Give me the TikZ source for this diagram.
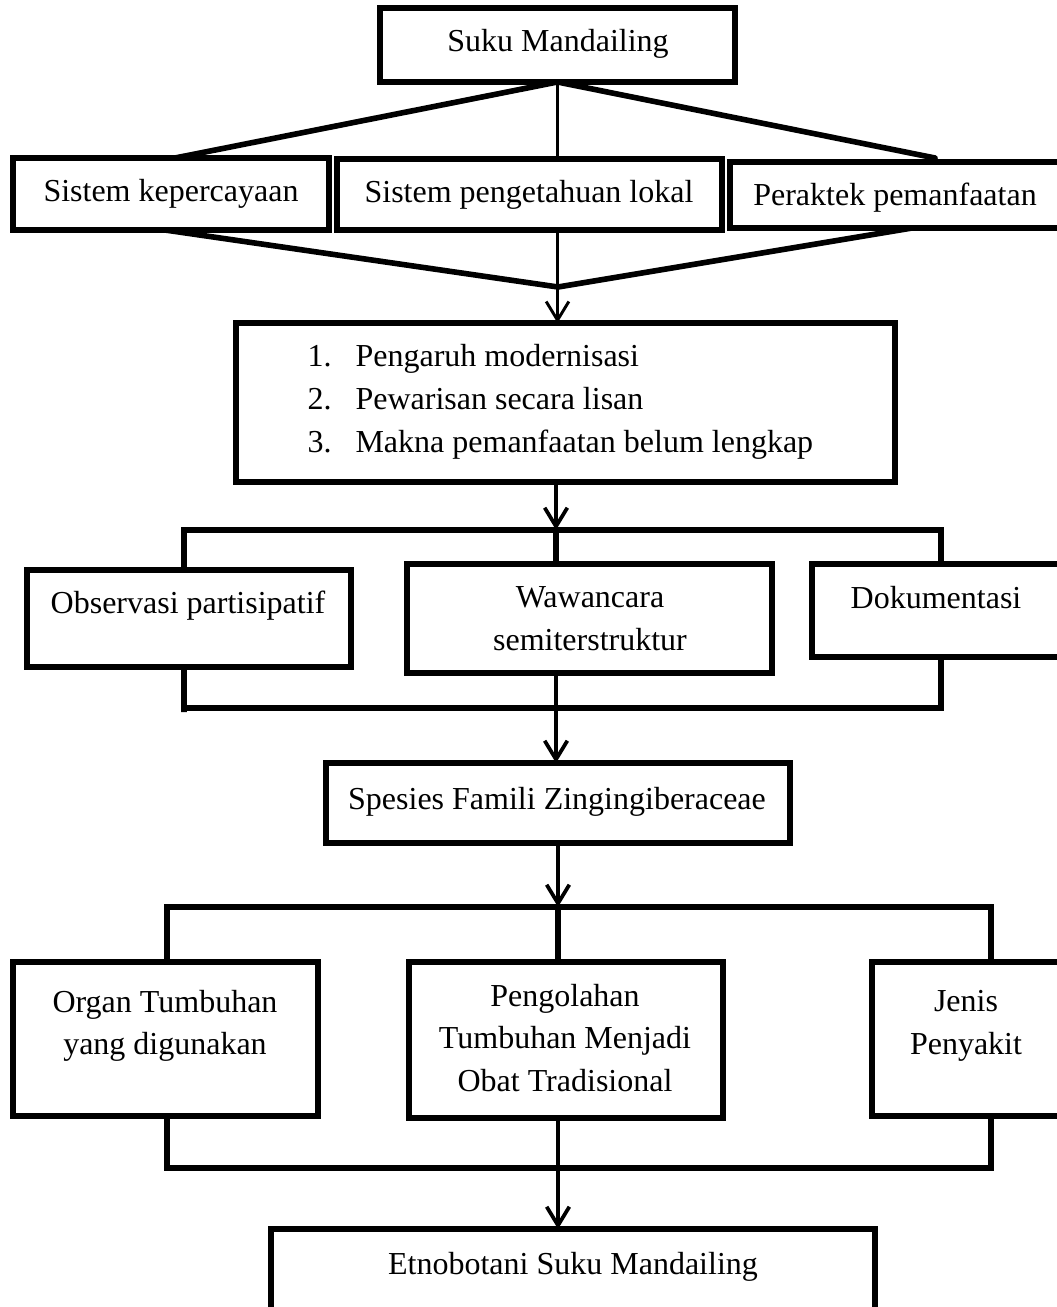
\documentclass[tikz,border=0pt]{standalone}
\usepackage{fontspec}
\setmainfont{Liberation Serif}
\usetikzlibrary{arrows.meta}
\newcommand{\pxu}{0.375pt}
\begin{document}
\begin{tikzpicture}[x=0.375pt,y=-0.375pt,
  box/.style={draw, line width=1.9pt, inner sep=0pt, outer sep=0pt, anchor=north west},
  txt/.style={inner sep=0pt, align=center, font=\fontsize{12}{16}\selectfont},
  fan/.style={line width=2.1pt, line cap=round},
  thin/.style={line width=0.9pt},
  brk/.style={line width=1.9pt, line join=miter},
  arr/.style={line width=1.4pt, -{Straight Barb[length=7pt,width=8.5pt]}}]
\useasboundingbox (0,0) rectangle (1057,1307);

% boxes
\node[box, minimum width=355*\pxu, minimum height=74*\pxu] (top) at (380,8) {};
\node[txt] (ttop) at (558,44) {Suku Mandailing};

\node[box, minimum width=316*\pxu, minimum height=72*\pxu] (sk1) at (13,158) {};
\node[txt] (tsk1) at (171,194) {Sistem kepercayaan};
\node[box, minimum width=385*\pxu, minimum height=71*\pxu] (sk2) at (337,159) {};
\node[txt] (tsk2) at (529,195) {Sistem pengetahuan lokal};
\node[box, minimum width=340*\pxu, minimum height=66*\pxu] (sk3) at (730,162) {};
\node[txt] (tsk3) at (895,198) {Peraktek pemanfaatan};

\node[box, minimum width=659*\pxu, minimum height=159*\pxu] (list) at (236,323) {};
\node[txt, anchor=west] (tlist) at (307,401) {\begin{tabular}{@{}l@{\hspace{9pt}}l@{}}
1. & Pengaruh modernisasi\\
2. & Pewarisan secara lisan\\
3. & Makna pemanfaatan belum lengkap
\end{tabular}};

\node[box, minimum width=324*\pxu, minimum height=97*\pxu] (obs) at (27,570) {};
\node[txt] (tobs) at (188,606) {Observasi partisipatif};
\node[box, minimum width=365*\pxu, minimum height=109*\pxu] (waw) at (407,564) {};
\node[txt] (twaw) at (590,619) {Wawancara\\semiterstruktur};
\node[box, minimum width=250*\pxu, minimum height=93*\pxu] (dok) at (812,564) {};
\node[txt] (tdok) at (936,598) {Dokumentasi};

\node[box, minimum width=464*\pxu, minimum height=80*\pxu] (spe) at (326,763) {};
\node[txt] (tspe) at (557,802) {Spesies Famili Zingingiberaceae};

\node[box, minimum width=305*\pxu, minimum height=154*\pxu] (org) at (13,962) {};
\node[txt] (torg) at (165,1026) {Organ Tumbuhan\\yang digunakan};
\node[box, minimum width=314*\pxu, minimum height=156*\pxu] (peng) at (409,962) {};
\node[txt] (tpeng) at (565,1038) {Pengolahan\\Tumbuhan Menjadi\\Obat Tradisional};
\node[box, minimum width=190*\pxu, minimum height=154*\pxu] (jen) at (872,962) {};
\node[txt] (tjen) at (966,1026) {Jenis\\Penyakit};

\node[box, minimum width=604*\pxu, minimum height=110*\pxu] (etno) at (271,1229) {};
\node[txt] (tetno) at (573,1267) {Etnobotani Suku Mandailing};

% top fan
\draw[fan] (top.south) -- ([xshift=4*\pxu]sk1.north);
\draw[fan] (top.south) -- ([xshift=35*\pxu,yshift=4*\pxu]sk3.north);
\draw[thin] (top.south) -- (top.south |- sk2.north);
\coordinate (m1) at (558,287);
\draw[fan] ([xshift=-6*\pxu]sk1.south) -- (m1) -- ([xshift=12*\pxu]sk3.south);
\draw[arr, line width=1.1pt] (top.south |- sk2.south) -- (top.south |- list.north);

% section 2 bracket
\coordinate (b1l) at (184,530);
\coordinate (b1m) at (556,530);
\coordinate (b1r) at (941,530);
\draw[arr] (b1m |- list.south) -- (b1m);
\draw[brk] (b1l |- obs.north) -- (b1l) -- (b1r) -- (b1r |- dok.north);
\draw[brk] (b1m) -- (b1m |- waw.north);
\coordinate (b2l) at (184,708);
\coordinate (b2m) at (556,708);
\coordinate (b2r) at (941,708);
\draw[brk] (b1l |- obs.south) -- ([yshift=-4*\pxu]b2l) -- (b2l) -- (b2r) -- (b2r |- dok.south);
\draw[arr] (b2m |- waw.south) -- (b2m |- spe.north);

% section 3 bracket
\coordinate (b3l) at (167,907);
\coordinate (b3m) at (558,907);
\coordinate (b3r) at (991,907);
\draw[arr] (b3m |- spe.south) -- (b3m);
\draw[brk] (b3l |- org.north) -- (b3l) -- (b3r) -- (b3r |- jen.north);
\draw[brk] (b3m) -- (b3m |- peng.north);
\coordinate (b4l) at (167,1168);
\coordinate (b4m) at (558,1168);
\coordinate (b4r) at (991,1168);
\draw[brk] (b4l |- org.south) -- (b4l) -- (b4r) -- (b4r |- jen.south);
\draw[arr] (b4m |- peng.south) -- (b4m |- etno.north);
\end{tikzpicture}
\end{document}
